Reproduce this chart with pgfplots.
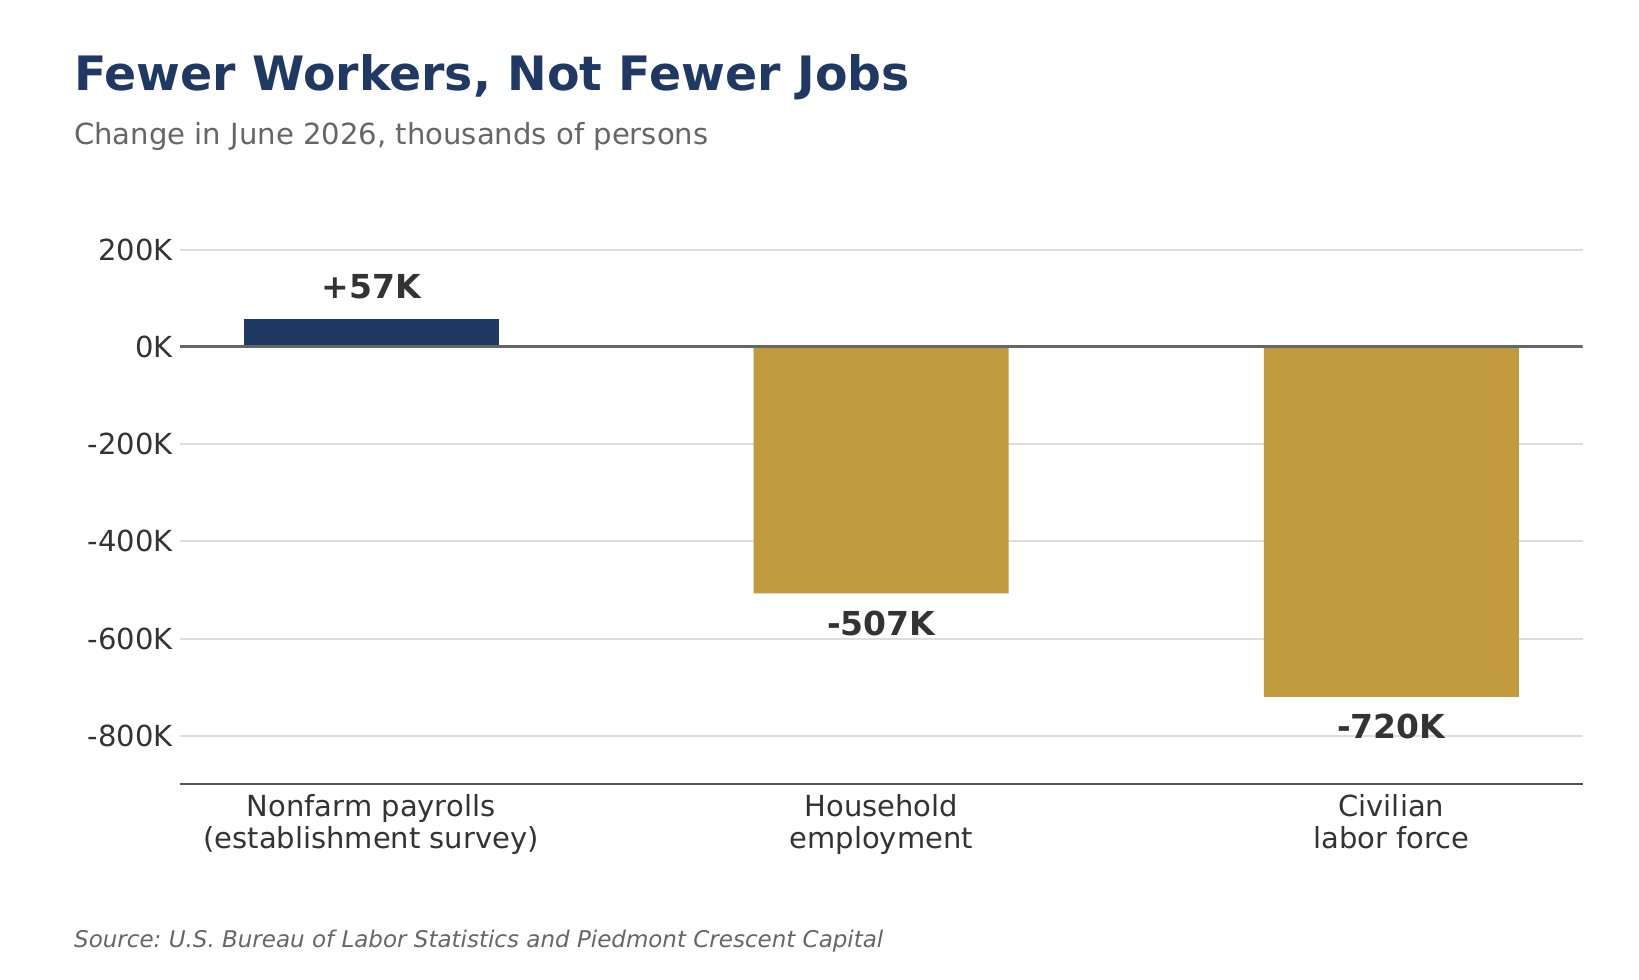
\documentclass[border=0pt]{standalone}
\usepackage{fontspec}
\setmainfont{DejaVu Sans}
\usepackage{pgfplots}
\pgfplotsset{compat=1.18}
\frenchspacing
\definecolor{navy}{HTML}{1F3864}
\definecolor{gold}{HTML}{C09A3C}
\definecolor{ink}{HTML}{333333}
\definecolor{muted}{HTML}{666666}
\definecolor{gridc}{HTML}{DDDDDD}
\definecolor{spine}{HTML}{555555}
\begin{document}
\begin{tikzpicture}
\useasboundingbox (0,0) rectangle (1639bp,980bp);
% headings
\node[anchor=base west, inner sep=0, text=navy, font=\fontsize{47.4bp}{56bp}\selectfont\bfseries]
  at (74bp,889bp) {Fewer Workers, Not Fewer Jobs};
\node[anchor=base west, inner sep=0, text=muted, font=\fontsize{29.1bp}{35bp}\selectfont]
  at (74bp,835bp) {Change in June 2026, thousands of persons};
\node[anchor=base west, inner sep=0, text=muted, font=\fontsize{23bp}{28bp}\selectfont\itshape]
  at (74bp,33bp) {Source: U.S. Bureau of Labor Statistics and Piedmont Crescent Capital};
\begin{axis}[
  at={(179.8bp,195.6bp)}, anchor=south west,
  scale only axis, width=1402.8bp, height=558.9bp,
  xmin=-0.375, xmax=2.375, ymin=-900, ymax=250,
  axis x line*=bottom, axis y line*=left,
  x axis line style={draw=spine, line width=2bp, -},
  y axis line style={draw=none},
  major tick length=0pt,
  xtick={0,1,2},
  xticklabels={{Nonfarm payrolls\\(establishment survey)},{Household\\employment},{Civilian\\labor force}},
  xticklabel style={align=center, text=ink, font=\fontsize{29bp}{31.5bp}\selectfont, yshift=-7bp},
  ytick={-800,-600,-400,-200,0,200},
  yticklabels={-800K,-600K,-400K,-200K,0K,200K},
  yticklabel style={text=ink, font=\fontsize{29bp}{34bp}\selectfont, xshift=-3.5bp},
  ymajorgrids, grid style={draw=gridc, line width=2bp},
  point meta=explicit symbolic,
  nodes near coords,
  every node near coord/.append style={text=ink, inner sep=0pt,
    font=\fontsize{33bp}{40bp}\selectfont\bfseries},
]
\addplot[ybar, bar width=255bp, bar shift=0pt, fill=navy, draw=none,
  every node near coord/.append style={anchor=base, yshift=20.5bp}]
  coordinates {(0,57) [+57K]};
\addplot[ybar, bar width=255bp, bar shift=0pt, fill=gold, draw=none,
  every node near coord/.append style={anchor=north, yshift=-17bp}]
  coordinates {(1,-507) [-507K] (2,-720) [-720K]};
\draw[muted, line width=3bp] (axis cs:-0.375,0) -- (axis cs:2.375,0);
\end{axis}
\end{tikzpicture}
\end{document}
